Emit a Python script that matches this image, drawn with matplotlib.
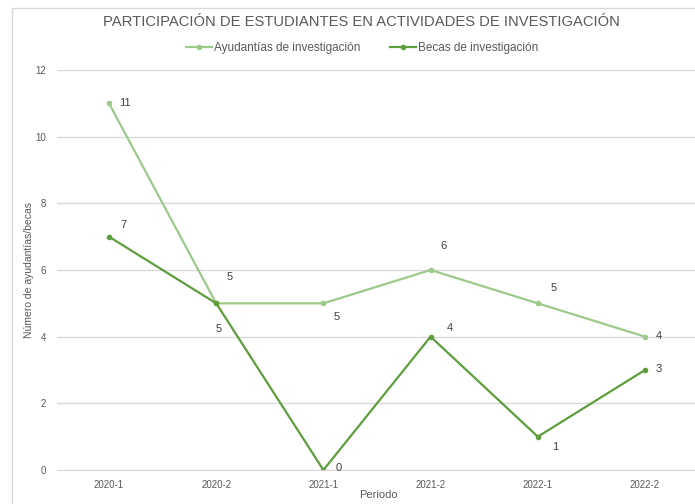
import matplotlib.pyplot as plt
from matplotlib.patches import Rectangle

plt.rcParams["font.family"] = ["Liberation Sans", "DejaVu Sans"]

periodos = ["2020-1", "2020-2", "2021-1", "2021-2", "2022-1", "2022-2"]
ayudantias = [11, 5, 5, 6, 5, 4]
becas = [7, 5, 0, 4, 1, 3]

# label offsets in pixels (dx, dy)
off_ayu = [(10, 0), (10, 26), (10, -14), (10, 24), (13, 15), (11, 1)]
off_bec = [(11, 12), (-1, -26), (12, 2), (16, 9), (14, -10), (11, 1)]

c_light = "#9dc98a"
c_dark = "#5e9e3e"
gray = "#595959"

W, H = 695, 504
fig = plt.figure(figsize=(W / 100, H / 100), dpi=100)
ax = fig.add_axes([57 / W, 1 - 470 / H, (W - 57) / W, 400 / H])

x = list(range(len(periodos)))
ax.plot(x, ayudantias, color=c_light, lw=1.6, marker="o", ms=3,
        label="Ayudantías de investigación")
ax.plot(x, becas, color=c_dark, lw=1.6, marker="o", ms=3,
        label="Becas de investigación")

for i in x:
    ax.annotate(str(ayudantias[i]), (i, ayudantias[i]), xytext=off_ayu[i],
                textcoords="offset pixels", ha="left", va="center",
                fontsize=8, color="#404040")
    ax.annotate(str(becas[i]), (i, becas[i]), xytext=off_bec[i],
                textcoords="offset pixels", ha="left", va="center",
                fontsize=8, color="#404040")

ax.set_xlim((57 - 109) / 107.2, (W - 109) / 107.2)
ax.set_ylim(0, 12)
ax.set_yticks(range(0, 13, 2))
ax.set_xticks(x)
ax.set_xticklabels(periodos)
ax.grid(axis="y", color="#d9d9d9", lw=1)
ax.set_axisbelow(True)
for s in ["top", "right", "left"]:
    ax.spines[s].set_visible(False)
ax.spines["bottom"].set_color("#d9d9d9")
ax.tick_params(length=0, labelsize=7, labelcolor=gray, pad=7)
ax.tick_params(axis="y", pad=8)

fig.text(29 / W, 1 - 270 / H, "Número de ayudantías/becas", rotation=90,
         ha="center", va="center", fontsize=7.5, color=gray)
fig.text(378 / W, 1 - 495 / H, "Periodo", ha="center", va="center",
         fontsize=8, color=gray)
fig.text(361 / W, 1 - 22 / H,
         "PARTICIPACIÓN DE ESTUDIANTES EN ACTIVIDADES DE INVESTIGACIÓN",
         ha="center", va="center", fontsize=10.6, color=gray)

fig.legend(loc="center", bbox_to_anchor=(362 / W, 1 - 48 / H), ncol=2,
           frameon=False, fontsize=8.5, handlelength=2.2, handletextpad=0.2,
           columnspacing=2.5, labelcolor=gray)

fig.patches.append(Rectangle((12 / W, -0.1), 1.2, 1 - 8 / H + 0.1,
                             transform=fig.transFigure, fill=False,
                             edgecolor="#d9d9d9", lw=1))

fig.savefig("out.png", dpi=100)
